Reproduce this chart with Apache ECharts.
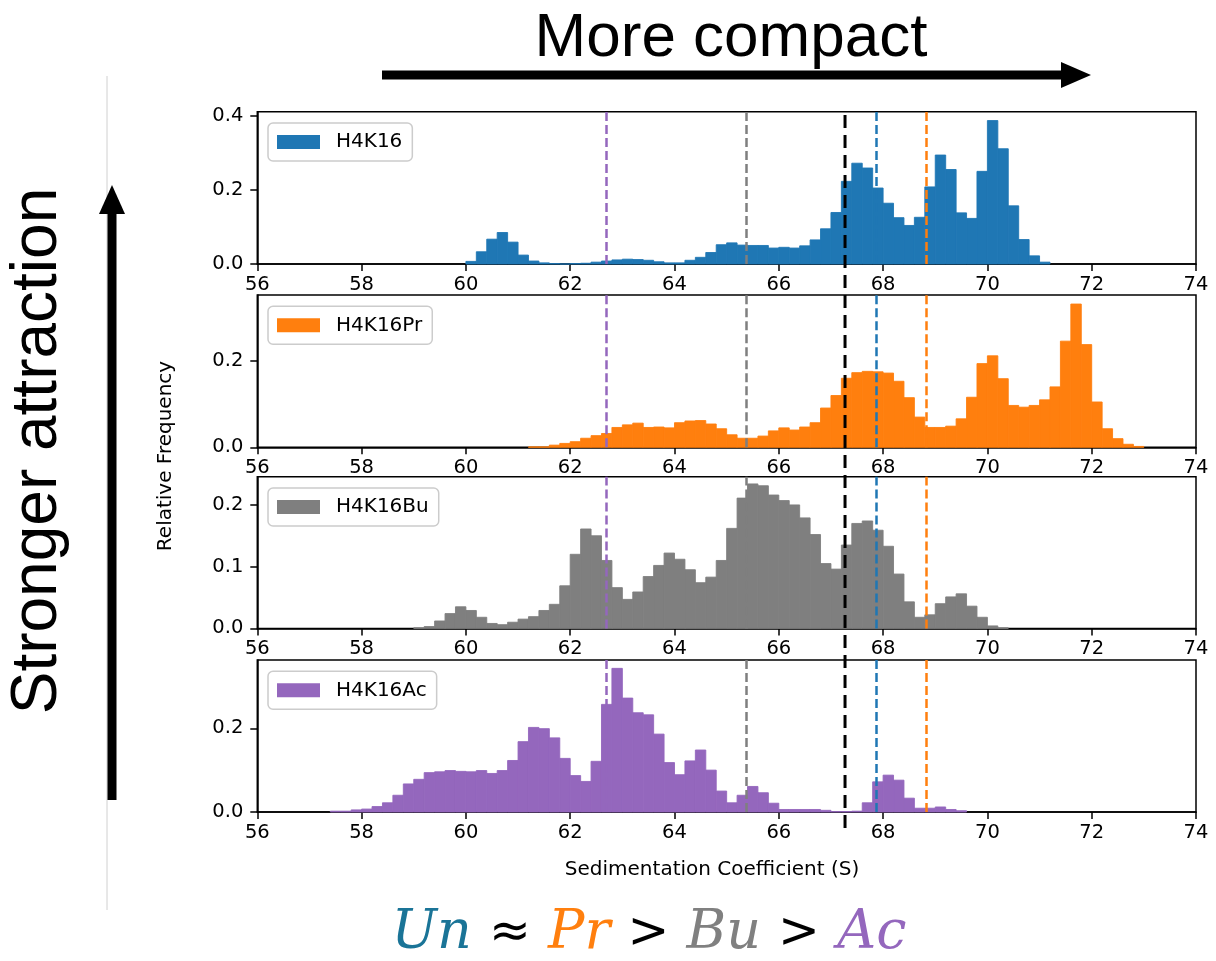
<!DOCTYPE html>
<html>
<head>
<meta charset="utf-8">
<script src="https://cdn.jsdelivr.net/npm/echarts@6/dist/echarts.min.js"></script>
<style>
html,body{margin:0;padding:0;background:#fff;}
#chart{width:1216px;height:961px;}
</style>
</head>
<body>
<div id="chart"></div>
<script>
// ---------------- DATA ----------------
const seriesNames = ['H4K16', 'H4K16Pr', 'H4K16Bu', 'H4K16Ac'];
const seriesColors = ['#1f77b4', '#ff7f0e', '#7f7f7f', '#9467bd'];
const binWidth = 0.2;

// first bin start (S) for each histogram
const h4k16Start = 60.0;
const h4k16Values = [0.007,0.033,0.067,0.085,0.059,0.024,0.008,0.003,0.001,0.000,
  0.001,0.002,0.005,0.008,0.011,0.013,0.012,0.010,0.006,0.003,
  0.003,0.010,0.018,0.031,0.052,0.057,0.051,0.050,0.050,0.043,
  0.045,0.043,0.049,0.065,0.095,0.139,0.223,0.272,0.259,0.205,
  0.164,0.125,0.104,0.126,0.208,0.294,0.255,0.138,0.123,0.250,
  0.387,0.311,0.157,0.066,0.022,0.005];

const h4k16PrStart = 61.2;
const h4k16PrValues = [0.001,0.001,0.005,0.009,0.013,0.021,0.027,0.032,0.046,0.052,
  0.056,0.046,0.047,0.045,0.057,0.061,0.062,0.054,0.043,0.029,
  0.021,0.021,0.026,0.038,0.045,0.040,0.047,0.057,0.091,0.120,
  0.160,0.173,0.176,0.175,0.172,0.153,0.115,0.070,0.046,0.046,
  0.049,0.066,0.116,0.194,0.212,0.159,0.097,0.093,0.097,0.110,
  0.140,0.246,0.332,0.238,0.105,0.043,0.020,0.007,0.002];

const h4k16BuStart = 59.0;
const h4k16BuValues = [0.001,0.003,0.012,0.024,0.035,0.029,0.018,0.008,0.006,0.010,
  0.015,0.019,0.029,0.039,0.069,0.120,0.161,0.150,0.110,0.066,
  0.047,0.059,0.084,0.102,0.122,0.112,0.095,0.074,0.083,0.110,
  0.162,0.211,0.234,0.231,0.216,0.207,0.200,0.179,0.152,0.105,
  0.096,0.135,0.170,0.174,0.159,0.133,0.088,0.043,0.018,0.022,
  0.040,0.051,0.056,0.036,0.018,0.004,0.001];

const h4k16AcStart = 57.4;
const h4k16AcValues = [0.002,0.002,0.005,0.007,0.013,0.022,0.040,0.067,0.078,0.094,
  0.096,0.099,0.097,0.096,0.099,0.092,0.099,0.123,0.168,0.202,
  0.199,0.177,0.128,0.087,0.073,0.121,0.257,0.343,0.272,0.237,
  0.232,0.186,0.118,0.089,0.122,0.148,0.100,0.050,0.022,0.040,
  0.061,0.046,0.021,0.006,0.006,0.006,0.006,0.004,0.001,0.001,
  0.002,0.022,0.072,0.088,0.076,0.033,0.009,0.009,0.012,0.006,0.003];

// mean / reference lines (S)
const meanLines = [
  { value: 62.70, color: '#9467bd' },
  { value: 65.38, color: '#7f7f7f' },
  { value: 67.87, color: '#1f77b4' },
  { value: 68.82, color: '#ff7f0e' }
];
const referenceLine = 67.27;

// axes
const xMin = 56, xMax = 74, xInterval = 2;
const yMaxes = [0.411, 0.353, 0.2457, 0.363];
const yTicks = [[0, 0.2, 0.4], [0, 0.2], [0, 0.1, 0.2], [0, 0.2]];

// --------------- LAYOUT ----------------
const gridLeft = 257.3, gridRight = 20;
const gridTops = [111.7, 295, 476.7, 660];
const gridHeights = [152.3, 152.3, 151.7, 152];

const starts = [h4k16Start, h4k16PrStart, h4k16BuStart, h4k16AcStart];
const valuesList = [h4k16Values, h4k16PrValues, h4k16BuValues, h4k16AcValues];

const FONT = '"DejaVu Sans", sans-serif';

function renderBin(params, api) {
  const x0 = api.value(0), v = api.value(1);
  const a = api.coord([x0, v]);
  const b = api.coord([x0 + binWidth, 0]);
  return {
    type: 'rect',
    shape: { x: a[0], y: a[1], width: b[0] - a[0], height: b[1] - a[1] },
    style: { fill: api.visual('color'), stroke: api.visual('color'), lineWidth: 0.9 }
  };
}

const grids = [], xAxes = [], yAxes = [], series = [], legends = [];
for (let i = 0; i < 4; i++) {
  grids.push({ left: gridLeft, right: gridRight, top: gridTops[i], height: gridHeights[i],
    show: true, borderColor: '#000', borderWidth: 1.5, backgroundColor: 'transparent' });
  xAxes.push({ type: 'value', gridIndex: i, min: xMin, max: xMax, interval: xInterval,
    axisLine: { show: true, onZero: false, lineStyle: { color: '#000', width: 1.5 } },
    axisTick: { show: true, length: 7, lineStyle: { color: '#000', width: 1.5 } },
    axisLabel: { fontSize: 19.5, color: '#000', fontFamily: FONT, margin: 11 },
    splitLine: { show: false } });
  yAxes.push({ type: 'value', gridIndex: i, min: 0, max: yMaxes[i],
    axisLine: { show: true, lineStyle: { color: '#000', width: 1.5 } },
    axisTick: { show: true, length: 7, customValues: yTicks[i], lineStyle: { color: '#000', width: 1.5 } },
    axisLabel: { fontSize: 19.5, color: '#000', fontFamily: FONT, margin: 14,
      customValues: yTicks[i], formatter: v => v.toFixed(1) },
    splitLine: { show: false } });
  series.push({
    name: seriesNames[i], type: 'custom', xAxisIndex: i, yAxisIndex: i,
    renderItem: renderBin, encode: { x: 0, y: 1 },
    itemStyle: { color: seriesColors[i] },
    data: valuesList[i].map((v, k) => [starts[i] + k * binWidth, v]),
    silent: true, animation: false,
    markLine: {
      silent: true, symbol: 'none', animation: false, label: { show: false },
      data: meanLines.map(m => ({ xAxis: m.value, lineStyle: { color: m.color, width: 2.5, type: [9, 4] } }))
    }
  });
  legends.push({ data: [seriesNames[i]], left: 268, top: gridTops[i] + 11.3, icon: 'rect',
    itemWidth: 43, itemHeight: 14, padding: [9, 10, 9, 9], borderColor: '#ccc', borderWidth: 1.5,
    borderRadius: 5, backgroundColor: 'rgba(255,255,255,0.85)', selectedMode: false,
    textStyle: { fontSize: 20, fontFamily: FONT, color: '#000', padding: [0, 0, 0, 11] } });
}

// overlay grid for the reference line spanning all panels
grids.push({ left: gridLeft, right: gridRight, top: 108, height: 720, show: false });
xAxes.push({ type: 'value', gridIndex: 4, min: xMin, max: xMax, show: false });
yAxes.push({ type: 'value', gridIndex: 4, min: 0, max: 1, show: false });
series.push({ type: 'line', xAxisIndex: 4, yAxisIndex: 4, symbol: 'none', silent: true, animation: false, z: 10,
  lineStyle: { color: '#000', width: 3, type: [13, 7] },
  data: [[referenceLine, 0], [referenceLine, 1]] });

const SERIF = 'italic 54px "DejaVu Serif", serif';
const graphic = [
  { type: 'text', x: 731, y: 39, z: 100, style: { text: 'More compact', font: '62px "Liberation Sans", Arial, sans-serif', fill: '#000', align: 'center', verticalAlign: 'middle' } },
  { type: 'rect', z: 100, shape: { x: 382, y: 70.5, width: 682, height: 9 }, style: { fill: '#000' } },
  { type: 'polygon', z: 100, shape: { points: [[1061, 62], [1091, 75], [1061, 88]] }, style: { fill: '#000' } },
  { type: 'line', z: 100, shape: { x1: 107, y1: 76, x2: 107, y2: 910 }, style: { stroke: '#d0d0d0', lineWidth: 1 } },
  { type: 'rect', z: 100, shape: { x: 107.5, y: 212, width: 9, height: 588 }, style: { fill: '#000' } },
  { type: 'polygon', z: 100, shape: { points: [[99, 214], [112, 185], [125, 214]] }, style: { fill: '#000' } },
  { type: 'text', x: 38, y: 451, rotation: Math.PI / 2, z: 100, style: { text: 'Stronger attraction', font: '64px "Liberation Sans", Arial, sans-serif', fill: '#000', align: 'center', verticalAlign: 'middle' } },
  { type: 'text', x: 166, y: 456, rotation: Math.PI / 2, z: 100, style: { text: 'Relative Frequency', font: '20px ' + FONT, fill: '#000', align: 'center', verticalAlign: 'middle' } },
  { type: 'text', x: 712, y: 870, z: 100, style: { text: 'Sedimentation Coefficient (S)', font: '20px ' + FONT, fill: '#000', align: 'center', verticalAlign: 'middle' } },
  { type: 'text', x: 649, y: 934, z: 100, style: {
      text: '{un|Un} {op|≈} {pr|Pr} {op|>} {bu|Bu} {op|>} {ac|Ac}',
      font: SERIF, align: 'center', verticalAlign: 'middle', fill: '#000',
      rich: {
        un: { fill: '#1a7497', font: SERIF },
        pr: { fill: '#ff7f0e', font: SERIF },
        bu: { fill: '#808080', font: SERIF },
        ac: { fill: '#9467bd', font: SERIF },
        op: { fill: '#000', font: '50px "DejaVu Sans", sans-serif' }
      } } }
];

const chart = echarts.init(document.getElementById('chart'), null, { renderer: 'canvas' });
chart.setOption({
  animation: false,
  backgroundColor: '#fff',
  grid: grids, xAxis: xAxes, yAxis: yAxes, series: series, legend: legends, graphic: graphic
});
</script>
</body>
</html>
